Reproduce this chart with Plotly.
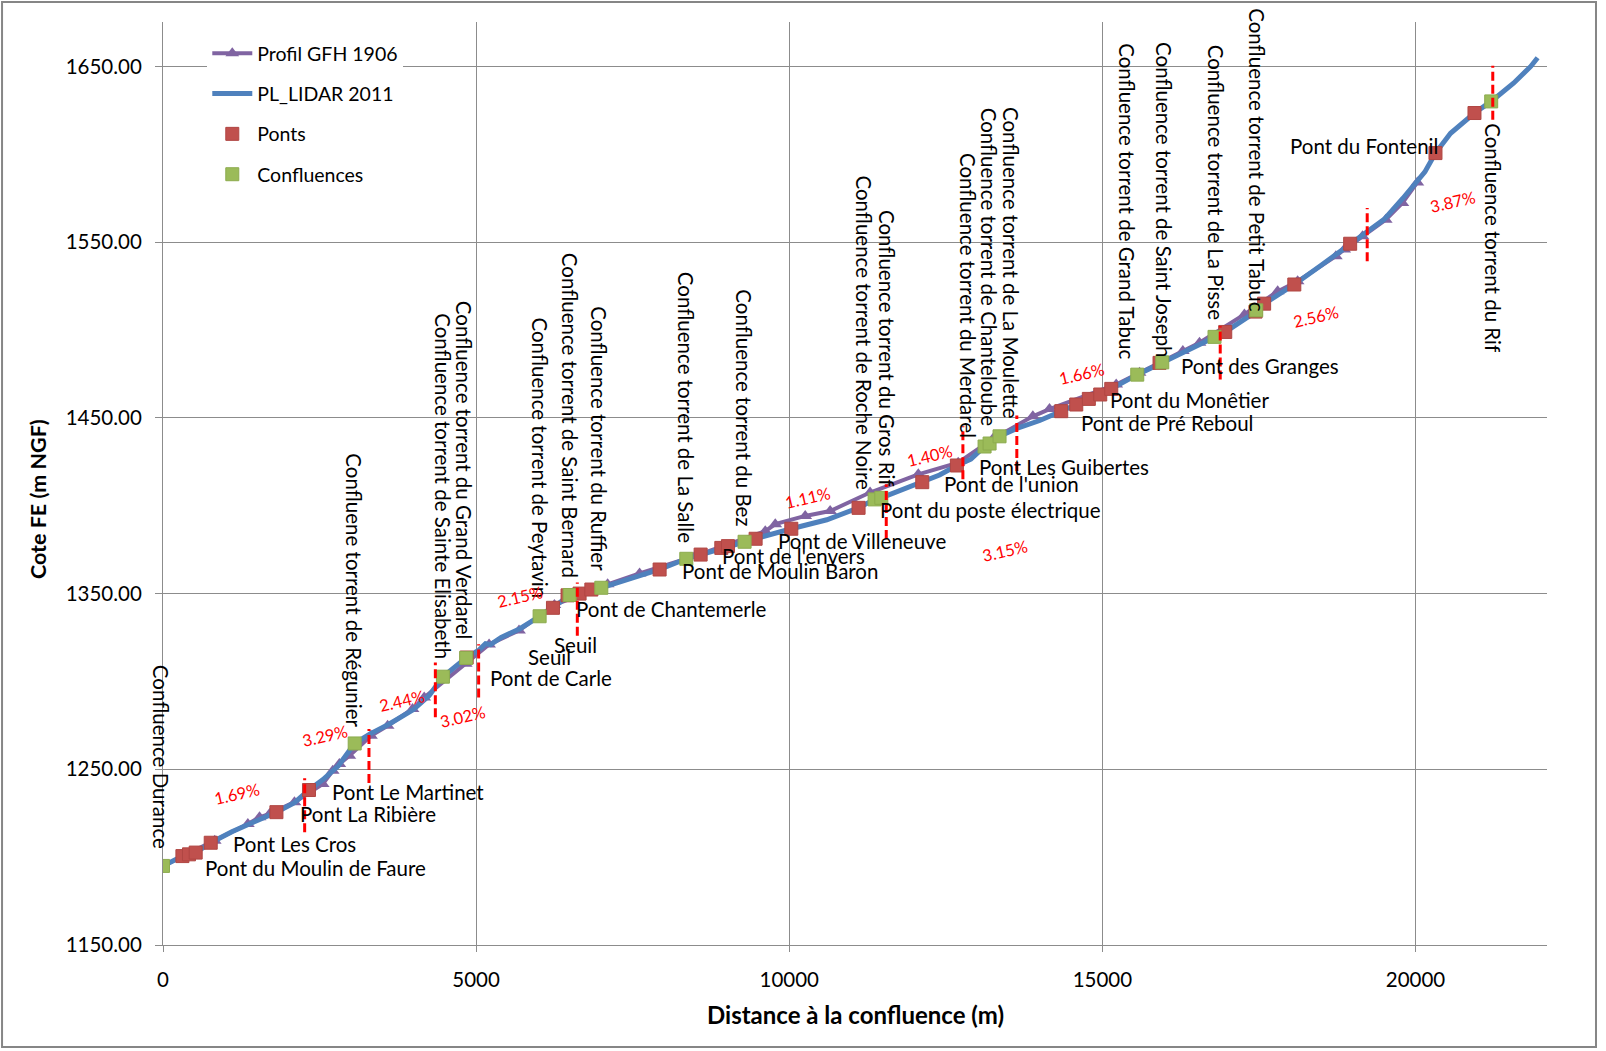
import plotly.graph_objects as go

# ---------------------------------------------------------------
# Profil en long de la Guisane : cote du fond (m NGF) en fonction
# de la distance à la confluence avec la Durance (m)
# ---------------------------------------------------------------

# Profil LIDAR 2011
lidar_dist = [0, 310, 415, 522, 762, 1100, 1450, 1811, 2100, 2331, 2550, 2800, 3061, 3300,
              3600, 4000, 4250, 4470, 4841, 5050, 5150, 5230, 5400, 5700, 6014, 6227, 6493,
              6652, 6840, 6999, 7500, 7930, 8356, 8585, 8915, 9021, 9287, 9463, 10033, 10600,
              11107, 11363, 11470, 11800, 12124, 12400, 12677, 12900, 13119, 13199, 13358,
              13634, 14000, 14343, 14583, 14784, 14966, 15142, 15557, 15956, 16300, 16791,
              16962, 17200, 17457, 17583, 18065, 18500, 18957, 19229, 19500, 19800, 20000,
              20150, 20319, 20560, 20942, 21209, 21570, 21840, 21950]
lidar_elev = [1195.0, 1200.6, 1201.6, 1202.6, 1208.2, 1214.5, 1220.0, 1225.6, 1231.0, 1238.2,
              1244.0, 1252.0, 1264.7, 1270.0, 1275.5, 1284.0, 1292.0, 1302.7, 1313.4, 1318.0,
              1321.5, 1321.0, 1325.0, 1330.0, 1337.1, 1341.9, 1349.2, 1350.2, 1352.3, 1353.3,
              1359.0, 1363.7, 1369.8, 1372.2, 1376.0, 1377.0, 1379.5, 1381.2, 1386.9, 1392.0,
              1398.8, 1403.6, 1404.5, 1409.0, 1413.4, 1417.5, 1422.9, 1426.5, 1433.7, 1435.4,
              1439.5, 1444.0, 1448.5, 1453.8, 1457.6, 1460.8, 1463.3, 1466.5, 1474.6, 1481.6,
              1487.0, 1496.1, 1498.9, 1504.5, 1510.5, 1515.0, 1525.9, 1537.0, 1549.1, 1556.5,
              1563.0, 1575.0, 1583.5, 1590.0, 1600.7, 1612.0, 1623.5, 1630.1, 1640.6, 1650.0,
              1655.0]

# Profil GFH 1906
gfh_dist = [0, 826, 1355, 1541, 1701, 2099, 2551, 2710, 2816, 2976, 3321, 3587, 3985, 4171,
            4835, 5207, 5685, 6250, 7100, 7610, 8500, 9617, 9777, 10255, 10653, 11291, 12061,
            12698, 13250, 13890, 14156, 15221, 15594, 16285, 16551, 17268, 17799, 18118, 18728,
            18862, 19154, 19525, 19791, 20030]
gfh_elev = [1195.0, 1209.4, 1218.9, 1222.7, 1224.6, 1231.3, 1241.6, 1249.2, 1253.0, 1257.7,
            1269.1, 1274.8, 1284.3, 1290.9, 1310.0, 1321.0, 1329.0, 1343.5, 1355.3, 1361.5,
            1371.5, 1385.5, 1389.5, 1394.2, 1397.0, 1407.5, 1417.9, 1424.5, 1438.0, 1450.9,
            1455.0, 1469.0, 1475.7, 1488.0, 1492.8, 1508.9, 1522.0, 1527.8, 1542.0, 1545.8,
            1553.4, 1562.8, 1572.3, 1584.0]

# Ponts
ponts_dist = [310, 415, 522, 762, 1811, 2331, 4849, 6227, 6460, 6652, 6840, 7930, 8585, 8915,
              9021, 9463, 10033, 11107, 12124, 12677, 14343, 14583, 14784, 14966, 15142, 15913,
              16962, 17446, 17583, 18065, 18957, 20319, 20942]
ponts_elev = [1200.6, 1201.6, 1202.6, 1208.2, 1225.6, 1238.2, 1313.6, 1341.9, 1349.0, 1350.0,
              1352.3, 1363.7, 1372.2, 1376.0, 1377.0, 1381.2, 1386.9, 1398.8, 1413.4, 1422.9,
              1453.8, 1457.6, 1460.8, 1463.3, 1466.5, 1481.3, 1498.9, 1510.5, 1515.0, 1525.9,
              1549.1, 1600.7, 1623.5]

# Confluences
confl_dist = [0, 3061, 4470, 4841, 6014, 6493, 6999, 8356, 9287, 11363, 11470, 13119, 13199,
              13358, 15557, 15956, 16791, 17457, 21209]
confl_elev = [1195.0, 1264.7, 1302.7, 1313.4, 1337.1, 1349.2, 1353.3, 1369.8, 1379.5, 1403.6,
              1404.5, 1433.7, 1435.4, 1439.5, 1474.6, 1481.6, 1496.1, 1511.2, 1630.1]

# Limites des tronçons de pente homogène
break_dist = [2262, 3289, 4349, 5040, 6616, 11549, 12773, 13634, 16882, 19229, 21234]
break_top = [1244.9, 1272.9, 1310.8, 1321.2, 1356.3, 1412.2, 1445.3, 1451.4, 1502.2, 1569.5, 1650.4]
break_bottom = [1214.2, 1242.2, 1279.6, 1290.9, 1326.0, 1381.0, 1415.0, 1419.8, 1471.9, 1539.1, 1619.7]

# Pentes moyennes par tronçon
slope_text = ["1.69%", "3.29%", "2.44%", "3.02%", "2.15%", "1.11%", "1.40%", "3.15%",
              "1.66%", "2.56%", "3.87%"]
slope_label_x = [1186, 2593, 3819, 4785, 5700, 10295, 12241, 13451, 14677, 18405, 20595]
slope_label_y = [1235.8, 1269.1, 1288.9, 1279.5, 1348.3, 1404.2, 1428.1, 1374.5, 1474.7,
                 1507.3, 1572.6]

# Étiquettes des confluences (texte vertical)
confl_label_text = [
    "Confluence Durance",
    "Confluene torrent de Régunier",
    "Confluence torrent de Sainte Elisabeth",
    "Confluence torrent du Grand Verdarel",
    "Confluence torrent de Peytavin",
    "Confluence torrent de Saint Bernard",
    "Confluence torrent du Ruffier",
    "Confluence torrent de La Salle",
    "Confluence torrent du Bez",
    "Confluence torrent de Roche Noire",
    "Confluence torrent du Gros Rif",
    "Confluence torrent du Merdarel",
    "Confluence torrent de Chanteloube",
    "Confluence torrent de La Moulette",
    "Confluence torrent de Grand Tabuc",
    "Confluence torrent de Saint Joseph",
    "Confluence torrent de La Pisse",
    "Confluence torrent de Petit Tabuc",
    "Confluence torrent du Rif",
]
confl_label_x = [0, 3051, 4458, 4817, 6014, 6493, 6972, 8356, 9287, 11187, 11559, 12852,
                 13187, 13529, 15381, 15993, 16807, 17457, 21234]
confl_label_y = [1257.4, 1351.8, 1411.0, 1420.6, 1427.1, 1451.4, 1438.1, 1456.1, 1455.7,
                 1498.3, 1489.3, 1519.5, 1535.6, 1538.0, 1573.2, 1574.2, 1584.1, 1596.5, 1552.4]

# Étiquettes des ponts et seuils (texte horizontal, ancré à gauche)
pont_label_text = [
    "Pont du Moulin de Faure", "Pont Les Cros", "Pont La Ribière", "Pont Le Martinet",
    "Pont de Carle", "Seuil", "Seuil", "Pont de Chantemerle", "Pont de Moulin Baron",
    "Pont de l'envers", "Pont de Villeneuve", "Pont du poste électrique", "Pont de l'union",
    "Pont Les Guibertes", "Pont de Pré Reboul", "Pont du Monêtier", "Pont des Granges",
    "Pont du Fontenil",
]
pont_label_x = [639, 1092, 2155, 2661, 5189, 5802, 6217, 6562, 8261, 8899, 9782, 11415, 12444,
                12996, 14624, 15087, 16221, 17961]
pont_label_y = [1194.0, 1207.3, 1224.4, 1237.0, 1302.1, 1314.0, 1321.0, 1341.0, 1362.7, 1371.3,
                1379.8, 1397.8, 1412.5, 1422.1, 1447.2, 1460.4, 1479.7, 1604.5]

FONT = "Lato"
GRID = "#8C8C8C"
LABEL_SIZE = 20.5

fig = go.Figure()

fig.add_trace(go.Scatter(
    x=gfh_dist, y=gfh_elev, mode="lines+markers", name="Profil GFH 1906",
    legendgroup="gfh",
    line=dict(color="#8064A2", width=4),
    marker=dict(symbol="triangle-up", size=12, color="#8064A2"),
))
fig.add_trace(go.Scatter(
    x=lidar_dist, y=lidar_elev, mode="lines", name="PL_LIDAR 2011",
    legendgroup="lidar",
    line=dict(color="#4F81BD", width=5),
))
fig.add_trace(go.Scatter(
    x=ponts_dist, y=ponts_elev, mode="markers", name="Ponts",
    legendgroup="ponts",
    marker=dict(symbol="square", size=13, color="#C0504D",
                line=dict(color="#B04643", width=1)),
))
fig.add_trace(go.Scatter(
    x=confl_dist, y=confl_elev, mode="markers", name="Confluences",
    legendgroup="confl",
    marker=dict(symbol="square", size=13, color="#9BBB59",
                line=dict(color="#8CAB4E", width=1)),
))

shapes = []
for d, t, b in zip(break_dist, break_top, break_bottom):
    shapes.append(dict(type="line", xref="x", yref="y", x0=d, x1=d, y0=b, y1=t,
                       line=dict(color="#FF0000", width=3, dash="9px,4px")))

# cadre de la zone graphique
shapes.append(dict(type="rect", xref="paper", yref="paper",
                   x0=-0.1163, x1=1.0354, y0=-0.1105, y1=1.0217,
                   line=dict(color="#868686", width=2), layer="below"))

annotations = []
for txt, x, y in zip(confl_label_text, confl_label_x, confl_label_y):
    annotations.append(dict(x=x, y=y, xref="x", yref="y", text=txt, showarrow=False,
                            textangle=90, xanchor="center", yanchor="middle",
                            xshift=-2.5 if x == 0 else 0,
                            font=dict(family=FONT, size=LABEL_SIZE, color="#000000")))
for txt, x, y in zip(pont_label_text, pont_label_x, pont_label_y):
    annotations.append(dict(x=x, y=y, xref="x", yref="y", text=txt, showarrow=False,
                            xanchor="left", yanchor="middle",
                            font=dict(family=FONT, size=LABEL_SIZE, color="#000000")))
for txt, x, y in zip(slope_text, slope_label_x, slope_label_y):
    annotations.append(dict(x=x, y=y, xref="x", yref="y", text=txt, showarrow=False,
                            textangle=-13, xanchor="center", yanchor="middle",
                            font=dict(family=FONT, size=16.5, color="#FF0000")))

annotations.append(dict(x=0.5, y=-0.0758, xref="paper", yref="paper",
                        text="<b>Distance à la confluence (m)</b>", showarrow=False,
                        xanchor="center", yanchor="middle",
                        font=dict(family=FONT, size=24, color="#000000")))
annotations.append(dict(x=-0.0904, y=0.483, xref="paper", yref="paper",
                        text="<b>Cote FE (m NGF)</b>", showarrow=False, textangle=-90,
                        xanchor="center", yanchor="middle",
                        font=dict(family=FONT, size=21.5, color="#000000")))

fig.update_layout(
    width=1606, height=1051,
    margin=dict(l=163, r=59, t=22, b=106),
    paper_bgcolor="white", plot_bgcolor="white",
    font=dict(family=FONT, size=LABEL_SIZE, color="#000000"),
    shapes=shapes, annotations=annotations,
    showlegend=True,
    legend=dict(x=0.032, y=0.987, xanchor="left", yanchor="top",
                bgcolor="white", borderwidth=0, tracegroupgap=12, itemwidth=40,
                font=dict(family=FONT, size=19.5, color="#000000")),
    xaxis=dict(range=[0, 22100], tickvals=[0, 5000, 10000, 15000, 20000],
               ticktext=["0", "5000", "10000", "15000", "20000"],
               showgrid=True, gridcolor=GRID, gridwidth=1, zeroline=False,
               showline=True, linecolor=GRID, linewidth=1,
               ticks="outside", ticklen=6, tickcolor=GRID, ticklabelstandoff=10,
               tickfont=dict(family=FONT, size=LABEL_SIZE, color="#000000")),
    yaxis=dict(range=[1150, 1675.3], tickvals=[1150, 1250, 1350, 1450, 1550, 1650],
               tickformat=".2f",
               showgrid=True, gridcolor=GRID, gridwidth=1, zeroline=False,
               showline=True, linecolor=GRID, linewidth=1,
               ticks="outside", ticklen=7, tickcolor=GRID, ticklabelstandoff=9,
               tickfont=dict(family=FONT, size=LABEL_SIZE, color="#000000")),
)

fig.write_html("out.html")
